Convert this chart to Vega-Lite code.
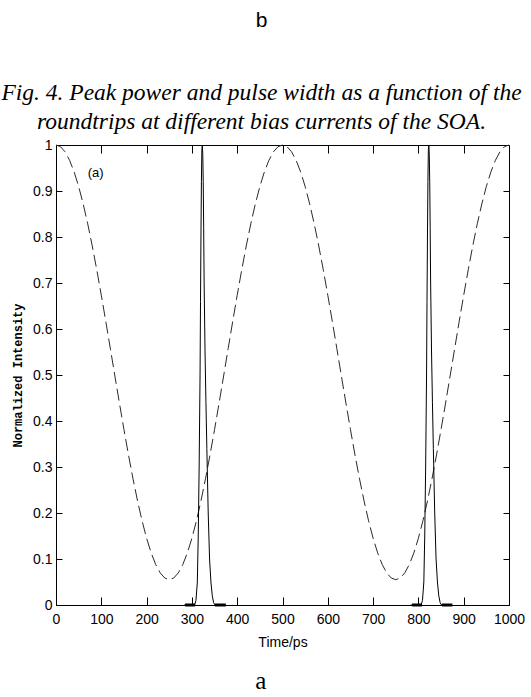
{
  "$schema": "https://vega.github.io/schema/vega-lite/v6.json",
  "width": 453,
  "height": 460,
  "autosize": "none",
  "padding": {"left": 56, "top": 145, "right": 22, "bottom": 92},
  "background": "white",
  "title": {
    "text": "b",
    "subtitle": ["Fig. 4. Peak power and pulse width as a function of the", "roundtrips at different bias currents of the SOA."],
    "anchor": "middle",
    "dx": -21,
    "font": "Liberation Sans",
    "fontSize": 21,
    "fontWeight": "normal",
    "color": "black",
    "subtitleFont": "Liberation Serif",
    "subtitleFontStyle": "italic",
    "subtitleFontSize": 23.5,
    "subtitleColor": "black",
    "subtitleLineHeight": 29,
    "subtitlePadding": 50,
    "offset": 5
  },
  "config": {
    "view": {"stroke": "black", "strokeWidth": 1},
    "axis": {"domainColor": "black", "tickColor": "black", "labelColor": "black", "titleColor": "black", "grid": false}
  },
  "datasets": {
    "dashed": [
      {"t": 0, "v": 1.0}, {"t": 10, "v": 0.9963}, {"t": 20, "v": 0.9852}, {"t": 30, "v": 0.9668}, {"t": 40, "v": 0.9416},
      {"t": 50, "v": 0.9098}, {"t": 60, "v": 0.8719}, {"t": 70, "v": 0.8287}, {"t": 80, "v": 0.7807}, {"t": 90, "v": 0.7287},
      {"t": 100, "v": 0.6735}, {"t": 110, "v": 0.616}, {"t": 120, "v": 0.5572}, {"t": 130, "v": 0.4978}, {"t": 140, "v": 0.439},
      {"t": 150, "v": 0.3815}, {"t": 160, "v": 0.3263}, {"t": 170, "v": 0.2743}, {"t": 180, "v": 0.2263}, {"t": 190, "v": 0.1831},
      {"t": 200, "v": 0.1452}, {"t": 210, "v": 0.1134}, {"t": 220, "v": 0.0882}, {"t": 230, "v": 0.0698}, {"t": 240, "v": 0.0587},
      {"t": 250, "v": 0.055}, {"t": 260, "v": 0.0587}, {"t": 270, "v": 0.0698}, {"t": 280, "v": 0.0882}, {"t": 290, "v": 0.1134},
      {"t": 300, "v": 0.1452}, {"t": 310, "v": 0.1831}, {"t": 320, "v": 0.2263}, {"t": 330, "v": 0.2743}, {"t": 340, "v": 0.3263},
      {"t": 350, "v": 0.3815}, {"t": 360, "v": 0.439}, {"t": 370, "v": 0.4978}, {"t": 380, "v": 0.5572}, {"t": 390, "v": 0.616},
      {"t": 400, "v": 0.6735}, {"t": 410, "v": 0.7287}, {"t": 420, "v": 0.7807}, {"t": 430, "v": 0.8287}, {"t": 440, "v": 0.8719},
      {"t": 450, "v": 0.9098}, {"t": 460, "v": 0.9416}, {"t": 470, "v": 0.9668}, {"t": 480, "v": 0.9852}, {"t": 490, "v": 0.9963},
      {"t": 500, "v": 1.0}, {"t": 510, "v": 0.9963}, {"t": 520, "v": 0.9852}, {"t": 530, "v": 0.9668}, {"t": 540, "v": 0.9416},
      {"t": 550, "v": 0.9098}, {"t": 560, "v": 0.8719}, {"t": 570, "v": 0.8287}, {"t": 580, "v": 0.7807}, {"t": 590, "v": 0.7287},
      {"t": 600, "v": 0.6735}, {"t": 610, "v": 0.616}, {"t": 620, "v": 0.5572}, {"t": 630, "v": 0.4978}, {"t": 640, "v": 0.439},
      {"t": 650, "v": 0.3815}, {"t": 660, "v": 0.3263}, {"t": 670, "v": 0.2743}, {"t": 680, "v": 0.2263}, {"t": 690, "v": 0.1831},
      {"t": 700, "v": 0.1452}, {"t": 710, "v": 0.1134}, {"t": 720, "v": 0.0882}, {"t": 730, "v": 0.0698}, {"t": 740, "v": 0.0587},
      {"t": 750, "v": 0.055}, {"t": 760, "v": 0.0587}, {"t": 770, "v": 0.0698}, {"t": 780, "v": 0.0882}, {"t": 790, "v": 0.1134},
      {"t": 800, "v": 0.1452}, {"t": 810, "v": 0.1831}, {"t": 820, "v": 0.2263}, {"t": 830, "v": 0.2743}, {"t": 840, "v": 0.3263},
      {"t": 850, "v": 0.3815}, {"t": 860, "v": 0.439}, {"t": 870, "v": 0.4978}, {"t": 880, "v": 0.5572}, {"t": 890, "v": 0.616},
      {"t": 900, "v": 0.6735}, {"t": 910, "v": 0.7287}, {"t": 920, "v": 0.7807}, {"t": 930, "v": 0.8287}, {"t": 940, "v": 0.8719},
      {"t": 950, "v": 0.9098}, {"t": 960, "v": 0.9416}, {"t": 970, "v": 0.9668}, {"t": 980, "v": 0.9852}, {"t": 990, "v": 0.9963},
      {"t": 1000, "v": 1.0}
    ],
    "pulses": [
      {"p": "1", "t": 283, "v": 0}, {"p": "1", "t": 306, "v": 0}, {"p": "1", "t": 309, "v": 0.01}, {"p": "1", "t": 312, "v": 0.05},
      {"p": "1", "t": 314, "v": 0.15}, {"p": "1", "t": 316, "v": 0.3}, {"p": "1", "t": 318, "v": 0.5}, {"p": "1", "t": 319, "v": 0.66},
      {"p": "1", "t": 320, "v": 0.8}, {"p": "1", "t": 321, "v": 0.92}, {"p": "1", "t": 322, "v": 0.99}, {"p": "1", "t": 323, "v": 1.0},
      {"p": "1", "t": 324, "v": 0.98}, {"p": "1", "t": 325, "v": 0.92}, {"p": "1", "t": 326, "v": 0.82}, {"p": "1", "t": 327, "v": 0.7},
      {"p": "1", "t": 329, "v": 0.55}, {"p": "1", "t": 331, "v": 0.44}, {"p": "1", "t": 333, "v": 0.34}, {"p": "1", "t": 336, "v": 0.2},
      {"p": "1", "t": 339, "v": 0.1}, {"p": "1", "t": 342, "v": 0.05}, {"p": "1", "t": 345, "v": 0.02}, {"p": "1", "t": 348, "v": 0.005},
      {"p": "1", "t": 351, "v": 0}, {"p": "1", "t": 373, "v": 0},
      {"p": "2", "t": 783, "v": 0}, {"p": "2", "t": 806, "v": 0}, {"p": "2", "t": 809, "v": 0.01}, {"p": "2", "t": 812, "v": 0.05},
      {"p": "2", "t": 814, "v": 0.15}, {"p": "2", "t": 816, "v": 0.3}, {"p": "2", "t": 818, "v": 0.5}, {"p": "2", "t": 819, "v": 0.66},
      {"p": "2", "t": 820, "v": 0.8}, {"p": "2", "t": 821, "v": 0.92}, {"p": "2", "t": 822, "v": 0.99}, {"p": "2", "t": 823, "v": 1.0},
      {"p": "2", "t": 824, "v": 0.98}, {"p": "2", "t": 825, "v": 0.92}, {"p": "2", "t": 826, "v": 0.82}, {"p": "2", "t": 827, "v": 0.7},
      {"p": "2", "t": 829, "v": 0.55}, {"p": "2", "t": 831, "v": 0.44}, {"p": "2", "t": 833, "v": 0.34}, {"p": "2", "t": 836, "v": 0.2},
      {"p": "2", "t": 839, "v": 0.1}, {"p": "2", "t": 842, "v": 0.05}, {"p": "2", "t": 845, "v": 0.02}, {"p": "2", "t": 848, "v": 0.005},
      {"p": "2", "t": 851, "v": 0}, {"p": "2", "t": 873, "v": 0}
    ],
    "noise": [
      {"s": "A", "t": 285, "v": 0}, {"s": "A", "t": 307, "v": 0},
      {"s": "B", "t": 351, "v": 0}, {"s": "B", "t": 375, "v": 0},
      {"s": "C", "t": 786, "v": 0}, {"s": "C", "t": 808, "v": 0},
      {"s": "D", "t": 852, "v": 0}, {"s": "D", "t": 875, "v": 0}
    ],
    "panelLabel": [{"t": 70, "v": 0.94, "label": "(a)"}],
    "caption": [{"t": 452, "v": -0.182, "label": "a"}]
  },
  "layer": [
    {
      "data": {"name": "dashed"},
      "mark": {"type": "line", "color": "#2a2a2a", "strokeWidth": 1, "strokeDash": [12, 5]},
      "encoding": {
        "x": {
          "field": "t", "type": "quantitative",
          "scale": {"domain": [0, 1000], "nice": false, "zero": false},
          "axis": {
            "orient": "bottom", "title": "Time/ps",
            "values": [0, 100, 200, 300, 400, 500, 600, 700, 800, 900, 1000],
            "format": "d",
            "tickSize": -8, "labelPadding": 15, "labelFlush": false,
            "labelFont": "Liberation Sans", "labelFontSize": 14,
            "titleFont": "Liberation Sans", "titleFontSize": 14, "titleFontWeight": "normal",
            "titlePadding": 9
          }
        },
        "y": {
          "field": "v", "type": "quantitative",
          "scale": {"domain": [0, 1], "nice": false},
          "axis": {
            "orient": "left", "title": "Normalized Intensity",
            "values": [0, 0.1, 0.2, 0.3, 0.4, 0.5, 0.6, 0.7, 0.8, 0.9, 1],
            "format": ".1~f",
            "tickSize": -6, "labelPadding": 10, "labelFlush": false,
            "labelFont": "Liberation Sans", "labelFontSize": 14,
            "titleFont": "Liberation Mono", "titleFontSize": 12, "titleFontWeight": "bold",
            "titlePadding": 8
          }
        }
      }
    },
    {
      "data": {"name": "pulses"},
      "mark": {"type": "line", "color": "black", "strokeWidth": 1},
      "encoding": {
        "x": {
          "field": "t", "type": "quantitative",
          "axis": {"orient": "top", "title": null, "labels": false, "domain": false,
            "values": [0, 100, 200, 300, 400, 500, 600, 700, 800, 900, 1000], "tickSize": -8}
        },
        "y": {
          "field": "v", "type": "quantitative",
          "axis": {"orient": "right", "title": null, "labels": false, "domain": false,
            "values": [0, 0.1, 0.2, 0.3, 0.4, 0.5, 0.6, 0.7, 0.8, 0.9, 1], "tickSize": -6}
        },
        "detail": {"field": "p"}
      }
    },
    {
      "data": {"name": "noise"},
      "mark": {"type": "line", "color": "black", "strokeWidth": 3},
      "encoding": {
        "x": {"field": "t", "type": "quantitative", "axis": null},
        "y": {"field": "v", "type": "quantitative", "axis": null},
        "detail": {"field": "s"}
      }
    },
    {
      "data": {"name": "panelLabel"},
      "mark": {"type": "text", "align": "left", "baseline": "middle", "font": "Liberation Sans", "fontSize": 13, "color": "black"},
      "encoding": {
        "x": {"field": "t", "type": "quantitative", "axis": null},
        "y": {"field": "v", "type": "quantitative", "axis": null},
        "text": {"field": "label"}
      }
    },
    {
      "data": {"name": "caption"},
      "mark": {"type": "text", "align": "center", "baseline": "alphabetic", "font": "Liberation Serif", "fontSize": 25, "color": "black"},
      "encoding": {
        "x": {"field": "t", "type": "quantitative", "axis": null},
        "y": {"field": "v", "type": "quantitative", "axis": null},
        "text": {"field": "label"}
      }
    }
  ],
  "resolve": {"axis": {"x": "independent", "y": "independent"}}
}
